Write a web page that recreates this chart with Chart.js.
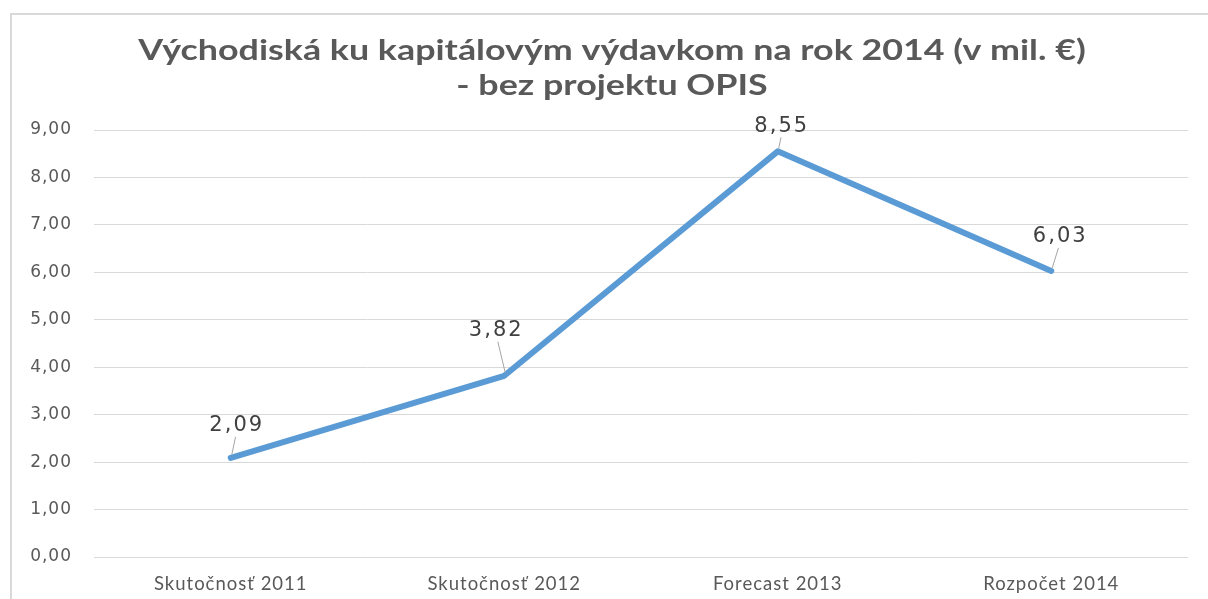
<!DOCTYPE html>
<html>
<head>
<meta charset="utf-8">
<script src="https://cdn.jsdelivr.net/npm/chart.js@4/dist/chart.umd.min.js"></script>
<style>
  html, body { margin: 0; padding: 0; background: #ffffff; }
  #wrap { position: relative; width: 1208px; height: 599px; overflow: hidden; }
</style>
</head>
<body>
<div id="wrap"><canvas id="c" width="1208" height="599"></canvas></div>
<script>
const categories = ["Skutočnosť 2011", "Skutočnosť 2012", "Forecast 2013", "Rozpočet 2014"];
const values = [2.09, 3.82, 8.55, 6.03];
const valueLabels = ["2,09", "3,82", "8,55", "6,03"];
const titleLines = ["Východiská ku kapitálovým výdavkom na rok 2014 (v mil. €)", "- bez projektu OPIS"];
const yMin = 0, yMax = 9, yStep = 1;

// label offsets relative to the point (style only)
const labelOffsets = [[6, -34], [-8, -47], [4, -27], [9, -36]];

const fmt = v => v.toFixed(2).replace('.', ',');

const framePlugin = {
  id: 'frame',
  beforeDraw(chart) {
    const ctx = chart.ctx;
    ctx.save();
    ctx.fillStyle = '#ffffff';
    ctx.fillRect(0, 0, chart.width, chart.height);
    ctx.strokeStyle = '#d9d9d9';
    ctx.lineWidth = 2;
    ctx.strokeRect(11, 14, 1204, 700);
    // title (stretched horizontally like the original)
    ctx.fillStyle = '#595959';
    ctx.textAlign = 'center';
    ctx.textBaseline = 'middle';
    ctx.font = 'bold 29px Lato';
    ctx.translate(612, 0);
    ctx.scale(1.235, 1);
    ctx.fillText(titleLines[0], 0, 51);
    ctx.fillText(titleLines[1], 0, 86);
    ctx.restore();
    chart.ctx.letterSpacing = '1px';
  }
};

const labelPlugin = {
  id: 'valueLabels',
  afterDatasetsDraw(chart) {
    const ctx = chart.ctx;
    const meta = chart.getDatasetMeta(0);
    ctx.save();
    ctx.letterSpacing = '2px';
    ctx.font = '21px "DejaVu Sans"';
    ctx.textAlign = 'center';
    ctx.textBaseline = 'middle';
    meta.data.forEach((pt, i) => {
      const [dx, dy] = labelOffsets[i];
      const tx = pt.x + dx, ty = pt.y + dy;
      ctx.strokeStyle = '#a6a6a6';
      ctx.lineWidth = 1;
      ctx.beginPath();
      const sx = tx - dx * 0.2, sy = ty + 13;
      ctx.moveTo(sx, sy);
      ctx.lineTo(pt.x + 1, pt.y - 3);
      ctx.stroke();
      ctx.fillStyle = '#404040';
      ctx.fillText(valueLabels[i], tx, ty + 2);
    });
    ctx.restore();
  }
};

new Chart(document.getElementById('c'), {
  type: 'line',
  data: {
    labels: categories,
    datasets: [{
      data: values,
      borderColor: '#5b9bd5',
      borderWidth: 6,
      borderCapStyle: 'round',
      borderJoinStyle: 'round',
      pointRadius: 0,
      pointHoverRadius: 0,
      tension: 0,
      fill: false
    }]
  },
  options: {
    responsive: false,
    animation: false,
    events: [],
    layout: { padding: { left: 10, right: 20, top: 130, bottom: 0 } },
    plugins: {
      legend: { display: false },
      tooltip: { enabled: false },
      title: { display: false }
    },
    scales: {
      x: {
        offset: true,
        grid: { display: false },
        border: { display: false },
        ticks: { color: '#595959', font: { family: 'Lato', size: 18.5 }, padding: 8, maxRotation: 0 },
        afterFit: s => { s.height = 42; }
      },
      y: {
        min: yMin, max: yMax,
        grid: { color: '#d9d9d9', lineWidth: 1, drawTicks: false },
        border: { display: false },
        ticks: { stepSize: yStep, color: '#595959', font: { family: 'DejaVu Sans', size: 17 }, padding: 22, callback: v => fmt(v) },
        afterFit: s => { s.width = 84; }
      }
    }
  },
  plugins: [framePlugin, labelPlugin]
});
</script>
</body>
</html>
